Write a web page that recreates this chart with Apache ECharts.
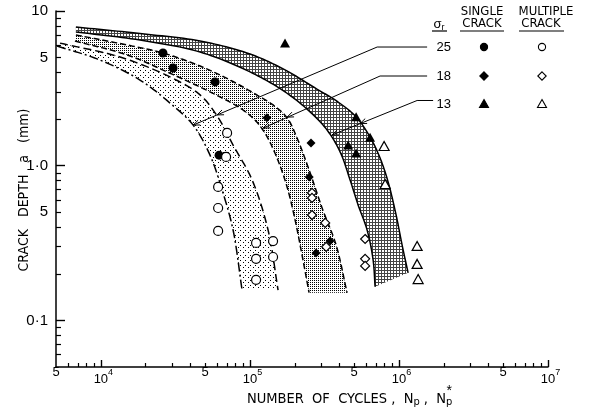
<!DOCTYPE html>
<html>
<head>
<meta charset="utf-8">
<script src="https://cdn.jsdelivr.net/npm/echarts@6/dist/echarts.min.js"></script>
<style>
  html, body { margin: 0; padding: 0; background: #fff; }
  #c { width: 596px; height: 418px; }
</style>
</head>
<body>
<div id="c"></div>
<script>
// Crack depth a (mm) against number of cycles N for three stress levels σr.
// Each band is bounded by a left and a right curve; values are (N, a) pairs.
const b25LeftN  = [5.08e3, 9.87e3, 1.83e4, 2.91e4, 4.16e4, 5.4e4, 6.5e4, 7.71e4, 8.86e4];
const b25LeftA  = [5.94, 4.82, 3.58, 2.54, 1.83, 1.17, 0.70, 0.384, 0.157];
const b25RightN = [5.32e3, 1.345e4, 2.91e4, 4.63e4, 6.02e4, 7.71e4, 1.034e5, 1.324e5, 1.545e5];
const b25RightA = [6.2, 5.04, 3.75, 2.87, 2.10, 1.36, 0.81, 0.384, 0.157];

const b18LeftN  = [6.7e3, 1.5e4, 2.78e4, 5.4e4, 8.59e4, 1.083e5, 1.283e5, 1.521e5, 1.776e5, 2.01e5, 2.204e5, 2.495e5];
const b18LeftA  = [6.4, 5.2, 4.04, 3.0, 2.36, 1.97, 1.58, 1.12, 0.729, 0.446, 0.286, 0.151];
const b18RightN = [6.8e3, 1.5e4, 2.61e4, 4.63e4, 7.36e4, 1.083e5, 1.43e5, 1.776e5, 2.072e5, 2.495e5, 3.05e5, 3.787e5, 4.487e5];
const b18RightA = [7.0, 6.03, 5.35, 4.41, 3.58, 2.91, 2.47, 2.04, 1.51, 0.939, 0.533, 0.307, 0.151];

const b13LeftN  = [6.8e3, 1.83e4, 4.63e4, 1.002e5, 1.721e5, 2.533e5, 3.295e5, 4.027e5, 4.70e5, 5.319e5, 6.113e5, 6.707e5, 6.917e5];
const b13LeftA  = [7.32, 6.49, 5.43, 4.04, 3.0, 2.23, 1.70, 1.23, 0.809, 0.558, 0.384, 0.246, 0.165];
const b13RightN = [6.8e3, 1.83e4, 4.63e4, 1.002e5, 1.721e5, 2.737e5, 3.905e5, 5.157e5, 6.404e5, 7.473e5, 8.459e5, 9.57e5, 1.05e6, 1.152e6];
const b13RightA = [7.88, 7.15, 6.40, 5.27, 4.16, 3.18, 2.58, 2.07, 1.53, 1.12, 0.785, 0.480, 0.307, 0.203];

// Test results: single crack (filled) and multiple crack (open) per stress level
const single25N = [2.61e4, 3.05e4, 5.84e4, 6.21e4];
const single25A = [5.35, 4.28, 3.48, 1.17];
const single18N = [1.30e5, 2.57e5, 2.50e5, 3.45e5, 2.78e5];
const single18A = [2.04, 1.40, 0.846, 0.326, 0.273];
const single13N = [1.72e5, 5.16e5, 6.40e5, 4.56e5, 5.16e5];
const single13A = [6.21, 2.07, 1.53, 1.36, 1.21];

const multi25N = [7.03e4, 6.92e4, 6.12e4, 6.12e4, 6.12e4, 1.10e5, 1.43e5, 1.10e5, 1.43e5, 1.10e5];
const multi25A = [1.63, 1.14, 0.729, 0.533, 0.379, 0.317, 0.326, 0.250, 0.257, 0.183];
const multi18N = [2.61e5, 2.61e5, 2.61e5, 3.20e5, 3.25e5, 5.93e5, 5.93e5, 5.93e5];
const multi18A = [0.667, 0.619, 0.480, 0.427, 0.299, 0.336, 0.250, 0.225];
const multi13N = [7.95e5, 8.08e5, 1.324e6, 1.324e6, 1.345e6];
const multi13A = [1.34, 0.762, 0.303, 0.232, 0.185];

// Leader lines from the σr labels to their band, with arrowheads on both boundaries
const lead25N = [1.545e6, 7.14e5, 4.16e4];
const lead25A = [5.85, 5.85, 1.83];
const lead25HeadN = [6.02e4, 4.16e4];
const lead25HeadA = [2.13, 1.83];
const lead18N = [1.545e6, 7.47e5, 1.225e5];
const lead18A = [3.80, 3.80, 1.75];
const lead18HeadN = [1.776e5, 1.225e5];
const lead18HeadA = [2.06, 1.75];
const lead13N = [1.695e6, 1.324e6, 3.56e5];
const lead13A = [2.64, 2.64, 1.58];
const lead13HeadN = [5.49e5, 3.56e5];
const lead13HeadA = [1.875, 1.58];

// Axis ticks and labels
const xMinorTicks = [6e3, 7e3, 8e3, 9e3,
  2e4, 3e4, 4e4, 5e4, 6e4, 7e4, 8e4, 9e4,
  2e5, 3e5, 4e5, 5e5, 6e5, 7e5, 8e5, 9e5,
  2e6, 3e6, 4e6, 5e6, 6e6, 7e6, 8e6, 9e6];
const xMajorTicks = [1e4, 1e5, 1e6, 1e7];
const xLabelValues = [5e3, 1e4, 5e4, 1e5, 5e5, 1e6, 5e6, 1e7];
const xLabelTexts = ['{p|5}', '{d|10}{e|4}', '{p|5}', '{d|10}{e|5}', '{p|5}', '{d|10}{e|6}', '{p|5}', '{d|10}{e|7}'];

const yMinorTicks = [0.06, 0.07, 0.08, 0.09, 0.2, 0.3, 0.4, 0.5, 0.6, 0.7, 0.8, 0.9,
  2, 3, 4, 5, 6, 7, 8, 9];
const yMajorTicks = [0.1, 1, 10];
const yLabelValues = [0.1, 0.5, 1, 5, 10];
const yLabelTexts = ['0·1', '5', '1·0', '5', '10'];

const L = Math.log10;
const FONT = "'Liberation Sans', 'DejaVu Sans', sans-serif";
const NARROW = "'Liberation Sans Narrow', 'DejaVu Sans Condensed', 'Liberation Sans', sans-serif";

function labelLookup(vals, texts) {
  const m = {};
  vals.forEach((v, i) => { m[L(v).toFixed(4)] = texts[i]; });
  return (v) => m[Number(v).toFixed(4)] || '';
}

// Stipple / mesh fills for the three bands
function makePattern(size, pixels, color) {
  const c = document.createElement('canvas');
  c.width = size; c.height = size;
  const g = c.getContext('2d');
  g.fillStyle = color;
  pixels.forEach(([x, y]) => g.fillRect(x, y, 1, 1));
  return c;
}
const pat25 = makePattern(5, [[0, 0], [3, 2]], '#000');
const pat18 = makePattern(2, [[0, 0]], '#000');
const pat13 = makePattern(3, [[0, 0], [1, 0], [2, 0], [0, 1], [0, 2]], '#444');

const bands = [
  { lN: b25LeftN, lA: b25LeftA, rN: b25RightN, rA: b25RightA, fill: pat25, lDash: [9, 3, 2, 3], rDash: [8, 4] },
  { lN: b18LeftN, lA: b18LeftA, rN: b18RightN, rA: b18RightA, fill: pat18, lDash: [6, 3], rDash: [6, 3] },
  { lN: b13LeftN, lA: b13LeftA, rN: b13RightN, rA: b13RightA, fill: pat13, lDash: null, rDash: null }
];

const leads = [
  { N: lead25N, A: lead25A, hN: lead25HeadN, hA: lead25HeadA },
  { N: lead18N, A: lead18A, hN: lead18HeadN, hA: lead18HeadA },
  { N: lead13N, A: lead13A, hN: lead13HeadN, hA: lead13HeadA }
];

// Centripetal Catmull-Rom through pixel points, for smooth boundary curves
function spline(pts, steps) {
  const n = pts.length;
  if (n < 3) return pts.slice();
  const P = [[2 * pts[0][0] - pts[1][0], 2 * pts[0][1] - pts[1][1]]]
    .concat(pts, [[2 * pts[n - 1][0] - pts[n - 2][0], 2 * pts[n - 1][1] - pts[n - 2][1]]]);
  const d = (a, b) => Math.max(Math.pow(Math.hypot(b[0] - a[0], b[1] - a[1]), 0.5), 1e-4);
  const mix = (a, b, wa, wb) => [a[0] * wa + b[0] * wb, a[1] * wa + b[1] * wb];
  const out = [];
  for (let i = 1; i < P.length - 2; i++) {
    const p0 = P[i - 1], p1 = P[i], p2 = P[i + 1], p3 = P[i + 2];
    const t0 = 0, t1 = t0 + d(p0, p1), t2 = t1 + d(p1, p2), t3 = t2 + d(p2, p3);
    for (let s = 0; s < steps; s++) {
      const t = t1 + (t2 - t1) * s / steps;
      const A1 = mix(p0, p1, (t1 - t) / (t1 - t0), (t - t0) / (t1 - t0));
      const A2 = mix(p1, p2, (t2 - t) / (t2 - t1), (t - t1) / (t2 - t1));
      const A3 = mix(p2, p3, (t3 - t) / (t3 - t2), (t - t2) / (t3 - t2));
      const B1 = mix(A1, A2, (t2 - t) / (t2 - t0), (t - t0) / (t2 - t0));
      const B2 = mix(A2, A3, (t3 - t) / (t3 - t1), (t - t1) / (t3 - t1));
      out.push(mix(B1, B2, (t2 - t) / (t2 - t1), (t - t1) / (t2 - t1)));
    }
  }
  out.push(pts[n - 1]);
  return out;
}

function renderBand(params, api) {
  const b = bands[params.dataIndex];
  const px = (Ns, As) => Ns.map((v, i) => api.coord([L(v), L(As[i])]));
  const left = spline(px(b.lN, b.lA), 14);
  const right = spline(px(b.rN, b.rA), 14);
  const poly = left.concat(right.slice().reverse());
  return {
    type: 'group',
    children: [
      { type: 'polygon', shape: { points: poly }, style: { fill: { image: b.fill, repeat: 'repeat' }, stroke: null } },
      { type: 'polyline', shape: { points: left }, style: { fill: null, stroke: '#000', lineWidth: 1.5, lineDash: b.lDash } },
      { type: 'polyline', shape: { points: right }, style: { fill: null, stroke: '#000', lineWidth: 1.5, lineDash: b.rDash } }
    ]
  };
}

function renderLead(params, api) {
  const ld = leads[params.dataIndex];
  const pts = ld.N.map((v, i) => api.coord([L(v), L(ld.A[i])]));
  const n = pts.length;
  const dx = pts[n - 1][0] - pts[n - 2][0], dy = pts[n - 1][1] - pts[n - 2][1];
  const len = Math.hypot(dx, dy);
  const ux = dx / len, uy = dy / len;
  const children = [{ type: 'polyline', shape: { points: pts }, style: { fill: null, stroke: '#000', lineWidth: 1 } }];
  ld.hN.forEach((v, i) => {
    const tip = api.coord([L(v), L(ld.hA[i])]);
    const wing = (ang) => {
      const c = Math.cos(ang), s = Math.sin(ang);
      return [tip[0] - 7 * (ux * c - uy * s), tip[1] - 7 * (ux * s + uy * c)];
    };
    children.push({ type: 'polyline', shape: { points: [wing(0.38), tip, wing(-0.38)] },
      style: { fill: null, stroke: '#000', lineWidth: 1 } });
  });
  return { type: 'group', children };
}

const zip = (Ns, As) => Ns.map((v, i) => [L(v), L(As[i])]);
const diamond = 'path://M0,-1L1,0L0,1L-1,0Z';

function scatter(Ns, As, symbol, size, filled) {
  return {
    type: 'scatter', data: zip(Ns, As), symbol, symbolSize: size, z: 5,
    itemStyle: { color: filled ? '#000' : '#fff', borderColor: '#000', borderWidth: filled ? 0 : 1.2, opacity: 1 }
  };
}

// Legend table in the upper right corner
const tx = (text, x, y, extra) => ({
  type: 'text', x, y, z: 20,
  style: Object.assign({ text, font: '13px ' + NARROW, fill: '#000', align: 'center', verticalAlign: 'middle',
    textAlign: 'center', textVerticalAlign: 'middle' }, extra || {})
});
const hline = (x1, x2, y) => ({ type: 'line', z: 20, shape: { x1, y1: y, x2, y2: y }, style: { stroke: '#000', lineWidth: 1.2 } });
const rows = [47, 76, 104];
const colS = 484, colM = 542;
const tri = (cx, cy, fill) => ({ type: 'polygon', z: 20, shape: { points: [[cx, cy - 4.5], [cx + 4.5, cy + 3.5], [cx - 4.5, cy + 3.5]] },
  style: { fill, stroke: '#000', lineWidth: 1.1 } });
const dia = (cx, cy, fill) => ({ type: 'polygon', z: 20, shape: { points: [[cx, cy - 4.2], [cx + 4.2, cy], [cx, cy + 4.2], [cx - 4.2, cy]] },
  style: { fill, stroke: '#000', lineWidth: 1.1 } });
const circ = (cx, cy, fill) => ({ type: 'circle', z: 20, shape: { cx, cy, r: 3.6 }, style: { fill, stroke: '#000', lineWidth: 1.1 } });

// x-axis title: place the asterisk above the second subscript p
const TITLE_FONT = 14.5, SUB_FONT = 11;
const measure = document.createElement('canvas').getContext('2d');
const titleHead = 'NUMBER  OF  CYCLES ,  N', titleMid = ' ,  N';
measure.font = TITLE_FONT + 'px ' + NARROW;
const wHead = measure.measureText(titleHead).width, wMid = measure.measureText(titleMid).width;
measure.font = SUB_FONT + 'px ' + NARROW;
const wSub = measure.measureText('p').width;
const titleLeft = 247;
const starX = titleLeft + wHead + wSub + wMid + wSub / 2;

const graphics = [
  tx('SINGLE', 482, 12), tx('MULTIPLE', 546, 12),
  tx('CRACK', 482, 24), tx('CRACK', 541, 24),
  tx('{s|σ}{r|r}', 439, 24, { rich: { s: { fontSize: 13, fontFamily: FONT, lineHeight: 16, verticalAlign: 'middle' },
    r: { fontSize: 9, fontFamily: FONT, lineHeight: 8, verticalAlign: 'bottom' } } }),
  hline(432, 447, 31), hline(460, 504, 31), hline(519, 564, 31),
  tx('25', 451, rows[0], { align: 'right', textAlign: 'right', font: '13px ' + FONT }),
  tx('18', 451, rows[1], { align: 'right', textAlign: 'right', font: '13px ' + FONT }),
  tx('13', 451, rows[2], { align: 'right', textAlign: 'right', font: '13px ' + FONT }),
  circ(colS, rows[0], '#000'), circ(colM, rows[0], '#fff'),
  dia(colS, rows[1], '#000'), dia(colM, rows[1], '#fff'),
  tri(colS, rows[2], '#000'), tri(colM, rows[2], '#fff'),
  // axis titles
  Object.assign(tx('CRACK   DEPTH   a   (mm)', 24, 190, { font: '14px ' + NARROW }), { rotation: Math.PI / 2 }),
  tx('{t|' + titleHead + '}{s|p}{t|' + titleMid + '}{s|p}', titleLeft, 399, {
    align: 'left', textAlign: 'left',
    rich: { t: { fontSize: TITLE_FONT, fontFamily: NARROW, lineHeight: 17, verticalAlign: 'middle' },
            s: { fontSize: SUB_FONT, fontFamily: NARROW, lineHeight: 10, verticalAlign: 'bottom' } } }),
  tx('*', starX, 391, { font: '14px ' + FONT })
];

const xLabelFmt = labelLookup(xLabelValues, xLabelTexts);
const yLabelFmt = labelLookup(yLabelValues, yLabelTexts);

const baseAxis = { type: 'value', splitLine: { show: false } };

const option = {
  animation: false,
  backgroundColor: '#fff',
  grid: { left: 56, right: 48, top: 11, bottom: 51, containLabel: false, outerBoundsMode: 'none' },
  xAxis: [
    Object.assign({}, baseAxis, {
      min: L(5e3), max: 7, position: 'bottom',
      axisLine: { show: true, onZero: false, lineStyle: { color: '#000', width: 1.5 } },
      axisTick: { show: true, inside: true, length: 4, customValues: xMinorTicks.map(L), lineStyle: { color: '#000', width: 1.2 } },
      axisLabel: {
        show: true, customValues: xLabelValues.map(L), formatter: xLabelFmt, margin: 3, color: '#000',
        rich: {
          p: { fontSize: 13, fontFamily: FONT, lineHeight: 13, padding: [0, 0, 9, 0] },
          d: { fontSize: 13, fontFamily: FONT, lineHeight: 13, padding: [7, 0, 2, 5] },
          e: { fontSize: 9, fontFamily: FONT, lineHeight: 9, padding: [3, 0, 10, 0] }
        }
      }
    }),
    Object.assign({}, baseAxis, {
      min: L(5e3), max: 7, position: 'bottom',
      axisLine: { show: false, onZero: false },
      axisTick: { show: true, inside: true, length: 7, customValues: xMajorTicks.map(L), lineStyle: { color: '#000', width: 1.4 } },
      axisLabel: { show: false }
    })
  ],
  yAxis: [
    Object.assign({}, baseAxis, {
      min: L(0.05), max: 1, position: 'left',
      axisLine: { show: true, onZero: false, lineStyle: { color: '#000', width: 1.5 } },
      axisTick: { show: true, inside: true, length: 5, customValues: yMinorTicks.map(L), lineStyle: { color: '#000', width: 1.2 } },
      axisLabel: { show: true, customValues: yLabelValues.map(L), formatter: yLabelFmt, margin: 8, color: '#000',
        fontSize: 15, fontFamily: FONT }
    }),
    Object.assign({}, baseAxis, {
      min: L(0.05), max: 1, position: 'left',
      axisLine: { show: false, onZero: false },
      axisTick: { show: true, inside: true, length: 9, customValues: yMajorTicks.map(L), lineStyle: { color: '#000', width: 1.4 } },
      axisLabel: { show: false }
    })
  ],
  graphic: graphics,
  series: [
    { type: 'custom', renderItem: renderBand, z: 2, silent: true,
      data: bands.map(b => [L(b.lN[0]), L(b.lA[0])]) },
    { type: 'custom', renderItem: renderLead, z: 3, silent: true,
      data: leads.map(ld => [L(ld.N[0]), L(ld.A[0])]) },
    scatter(single25N, single25A, 'circle', 9, true),
    scatter(single18N, single18A, diamond, 9, true),
    scatter(single13N, single13A, 'triangle', [10, 9], true),
    scatter(multi25N, multi25A, 'circle', 9, false),
    scatter(multi18N, multi18A, diamond, 9, false),
    scatter(multi13N, multi13A, 'triangle', [10, 9], false)
  ]
};

const chart = echarts.init(document.getElementById('c'), null, { renderer: 'canvas' });
chart.setOption(option);
</script>
</body>
</html>
